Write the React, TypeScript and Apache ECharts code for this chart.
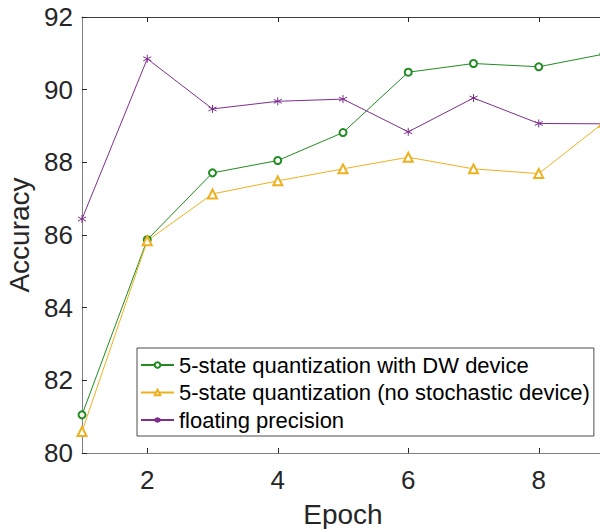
import React, { useEffect, useRef } from "react";
import * as echarts from "echarts";

const epochs = [1, 2, 3, 4, 5, 6, 7, 8, 9];
const dwDevice = [81.05, 85.87, 87.71, 88.05, 88.82, 90.48, 90.72, 90.63, 90.98];
const noStochastic = [80.59, 85.84, 87.13, 87.49, 87.82, 88.14, 87.82, 87.69, 89.1];
const floating = [86.44, 90.85, 89.47, 89.68, 89.74, 88.84, 89.77, 89.07, 89.06];
const xTicks = [2, 4, 6, 8];
const seriesNames = [
  "5-state quantization with DW device",
  "5-state quantization (no stochastic device)",
  "floating precision",
];

const FONT = "'Liberation Sans', Arial, Helvetica, sans-serif";
const GREEN = "#218c21";
const ORANGE = "#EDB120";
const PURPLE = "#7E2F8E";
const AXIS = "#808080";
const TEXT = "#262626";
const ASTERISK = "path://M5,0L5,10M0.67,2.5L9.33,7.5M0.67,7.5L9.33,2.5";

export default function App() {
  const ref = useRef<HTMLDivElement>(null);
  useEffect(() => {
    if (!ref.current) return;
    const chart = echarts.init(ref.current, null, { renderer: "svg" });
    const pair = (ys: number[]) => epochs.map((x, i) => [x, ys[i]]);
    chart.setOption({
      animation: false,
      backgroundColor: "#ffffff",
      grid: { left: 82, top: 17, width: 522, height: 436, containLabel: false, outerBoundsMode: "none" },
      legend: {
        orient: "vertical",
        left: 137,
        top: 348,
        padding: [6, 4, 5, 3],
        itemGap: 5.5,
        itemWidth: 33,
        itemHeight: 7,
        borderColor: "#4d4d4d",
        borderWidth: 1,
        backgroundColor: "#ffffff",
        textStyle: { fontFamily: FONT, fontSize: 22, color: "#000000", lineHeight: 22 },
        data: seriesNames,
      },
      xAxis: [
        {
          type: "value",
          min: 1,
          max: 9,
          position: "bottom",
          name: "Epoch",
          nameLocation: "middle",
          nameGap: 47,
          nameTextStyle: { fontFamily: FONT, fontSize: 28, color: TEXT },
          axisLine: { show: true, lineStyle: { color: AXIS, width: 1 } },
          axisTick: { show: true, inside: true, length: 5, customValues: xTicks, lineStyle: { color: TEXT } },
          axisLabel: { customValues: xTicks, margin: 14, fontFamily: FONT, fontSize: 26, color: TEXT },
          splitLine: { show: false },
        },
        {
          type: "value",
          min: 1,
          max: 9,
          position: "top",
          axisLine: { show: true, lineStyle: { color: "#404040", width: 1 } },
          axisTick: { show: true, inside: true, length: 5, customValues: xTicks, lineStyle: { color: TEXT } },
          axisLabel: { show: false },
          splitLine: { show: false },
        },
      ],
      yAxis: {
        type: "value",
        min: 80,
        max: 92,
        interval: 2,
        name: "Accuracy",
        nameLocation: "middle",
        nameGap: 46,
        nameTextStyle: { fontFamily: FONT, fontSize: 28, color: TEXT },
        axisLine: { show: true, lineStyle: { color: AXIS, width: 1 } },
        axisTick: { show: true, inside: true, length: 5, lineStyle: { color: TEXT } },
        axisLabel: { margin: 9, fontFamily: FONT, fontSize: 26, color: TEXT },
        splitLine: { show: false },
      },
      series: [
        {
          name: seriesNames[0],
          type: "line",
          data: pair(dwDevice),
          symbol: "emptyCircle",
          symbolSize: 7,
          color: GREEN,
          lineStyle: { width: 1, color: GREEN },
          itemStyle: { color: GREEN, borderWidth: 1 },
        },
        {
          name: seriesNames[1],
          type: "line",
          data: pair(noStochastic),
          symbol: "emptyTriangle",
          symbolSize: 9,
          color: ORANGE,
          lineStyle: { width: 1, color: ORANGE },
          itemStyle: { color: ORANGE, borderWidth: 1 },
        },
        {
          name: seriesNames[2],
          type: "line",
          data: pair(floating),
          symbol: ASTERISK,
          symbolSize: 8,
          color: PURPLE,
          lineStyle: { width: 1, color: PURPLE },
          itemStyle: { color: PURPLE, borderColor: PURPLE, borderWidth: 1 },
        },
      ],
    });
    return () => chart.dispose();
  }, []);
  return (
    <div
      ref={ref}
      style={{ position: "fixed", left: 0, top: 0, width: 600, height: 529, background: "#fff" }}
    />
  );
}
